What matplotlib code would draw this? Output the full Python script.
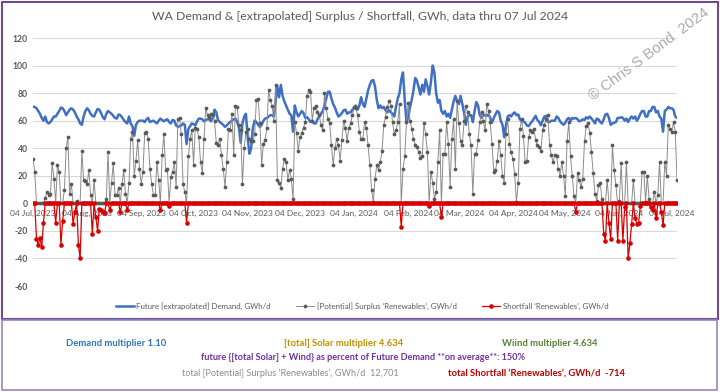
import matplotlib
matplotlib.use('Agg')
import matplotlib.pyplot as plt
import pandas as pd
from matplotlib.patches import Rectangle
from matplotlib.lines import Line2D

start_date = '2023-07-04'

# Future [extrapolated] Demand, GWh/d (daily, from 04 Jul 2023)
demand = [
    70, 70, 69, 67, 65, 62, 60, 63, 59, 58,
    59, 61, 63, 63, 65, 67, 69.5, 69, 67, 64,
    66, 68, 69, 68, 66, 63, 61, 58, 57, 63,
    67, 69, 67.5, 65, 63.5, 63, 66, 68.5, 68, 65.5,
    62.5, 61, 65, 67, 66, 65, 63.5, 62, 61.5, 64.5,
    64, 62.5, 60.5, 59, 58, 63, 58, 56, 49, 57,
    59, 60, 60, 60, 59, 61, 62, 59, 59.5, 60,
    59, 58, 60, 61.5, 60.5, 59.5, 60.5, 61, 59, 58,
    60.5, 60, 56.5, 55.5, 56, 56.5, 58, 57, 43, 54,
    56, 58, 57.5, 56.5, 59.5, 61.5, 61.5, 61, 59.5, 60.5,
    61, 61, 59.5, 62, 68, 66, 60.5, 59, 58, 57,
    55.5, 56.5, 58, 59, 60, 61, 61.5, 59, 55, 44,
    58, 63, 65, 48, 36, 40, 55, 60, 59, 57,
    55.5, 57, 60, 61.5, 62, 63, 64, 64, 63, 74,
    84.6, 77, 86, 78, 74, 71, 68, 65, 64, 52,
    71, 66, 63, 65, 67, 65.5, 62, 62.5, 61, 59,
    60, 58, 58, 61, 63, 65, 67, 71, 76, 81,
    81, 76, 72, 69.5, 66, 63, 64, 65.5, 67.5, 68,
    65, 66, 66, 68, 69, 71, 68, 71, 77, 72,
    70, 76, 82, 86, 89, 89.5, 84.6, 75, 69, 71,
    69, 70, 67.6, 66, 67.6, 66, 65, 63, 70, 76,
    80, 90, 95, 75, 59, 62, 70, 75, 82, 91,
    89, 84, 79, 86, 81, 90, 85, 79, 88, 100,
    95, 80, 73, 75, 67, 65, 67, 63, 65, 62,
    68, 74, 78, 74, 72, 78, 72, 66, 57, 63,
    64, 64, 59, 67, 73.5, 71, 64, 62, 64, 64,
    63.5, 64.5, 62, 58.5, 62, 64.5, 67, 66, 60, 57,
    48, 56.7, 63, 64, 63, 65, 66, 64, 64.5, 61,
    59.5, 59.5, 58.5, 56.5, 56, 58, 59.5, 61.5, 63.5, 60.5,
    59, 56.7, 60, 63, 63.5, 59, 59, 60, 60, 60,
    63, 62, 59.5, 58, 57, 58.5, 61, 62, 60, 62,
    61.5, 62, 61, 59.5, 60, 61, 60.5, 62.5, 61.5, 63,
    61.5, 60, 58, 61.5, 61, 59, 58, 61, 64.5, 65,
    62, 57, 58, 58.5, 59, 62, 62, 62.5, 62, 60,
    61.5, 59, 61.5, 63, 61.5, 63, 60, 62, 65, 67,
    67, 63, 63, 67, 67, 70, 70, 66, 67, 63,
    61.5, 52, 67, 68, 70, 69, 69, 68, 63, 62,
]

# [Potential] Surplus 'Renewables', GWh/d
surplus = [
    32, 23, 0, 0, 0, 0, 0, 4, 8, 6,
    7, 29, 18, 0, 28, 23, 0, 0, 10, 40,
    48, 7, 14, 0, 0, 2, 0, 0, 38, 17,
    16, 14, 24, 6, 0, 17, 0, 0, 0, 0,
    0, 0, 3, 37, 0, 15, 29, 6, 6, 11,
    0, 14, 24, 7, 0, 15, 47, 52, 20, 31,
    46, 25, 14, 23, 51, 52, 47, 25, 14, 6,
    6, 30, 17, 0, 35, 50, 24, 25, 0, 19,
    23, 30, 12, 61, 62, 50, 14, 8, 0, 34,
    47, 53, 28, 55, 54, 48, 30, 22, 47, 69,
    64, 63, 65, 64, 60, 44, 42, 47, 35, 25,
    12, 30, 54, 53, 65, 35, 71, 70, 57, 53,
    14, 40, 52, 54, 47, 45, 45, 50, 75, 76,
    58, 28, 43, 46, 55, 82, 75, 71, 60, 86,
    17, 15, 11, 25, 32, 30, 17, 24, 18, 3,
    59, 51, 38, 48, 51, 55, 59, 78, 82, 81,
    60, 69, 71, 66, 64, 57, 53, 80, 69, 61,
    58, 42, 28, 40, 47, 42, 31, 46, 60, 55,
    45, 55, 58, 64, 70, 69, 64, 52, 47, 47,
    59, 55, 42, 28, 10, 1, 18, 28, 24, 30,
    38, 57, 63, 70, 74, 71, 59, 50, 53, 59,
    72, 0, 25, 34, 59, 73, 60, 54, 47, 42,
    41, 37, 33, 34, 58, 50, 37, 0, 23, 15,
    3, 8, 30, 53, 0, 36, 36, 59, 43, 12,
    47, 61, 25, 74, 58, 45, 42, 60, 71, 66,
    50, 42, 7, 36, 36, 46, 59, 66, 60, 53,
    72, 67, 59, 43, 23, 24, 31, 45, 35, 20,
    15, 50, 61, 43, 37, 32, 21, 1, 15, 54,
    61, 49, 30, 31, 48, 53, 52, 54, 46, 42,
    41, 38, 53, 57, 61, 64, 42, 35, 30, 35,
    34, 25, 20, 30, 20, 5, 45, 59, 34, 20,
    5, 0, 22, 17, 12, 18, 45, 56, 58, 51,
    37, 22, 7, 2, 13, 15, 3, 0, 0, 17,
    0, 0, 42, 24, 13, 0, 2, 29, 0, 0,
    30, 0, 0, 0, 17, 0, 0, 0, 0, 23,
    23, 1, 20, 3, 0, 0, 8, 0, 6, 30,
    0, 0, 30, 20, 57, 54, 52, 59, 52, 17,
]

# Shortfall 'Renewables', GWh/d
shortfall = [
    0, 0, -26, -30, -25, -32, -14, 0, 0, 0,
    0, 0, 0, -14, 0, 0, -30, -13, 0, 0,
    0, 0, 0, -15, -6, 0, -30, -40, 0, 0,
    0, 0, 0, 0, -22, 0, -10, -20, -4, -5,
    -6, -7, 0, 0, -5, 0, 0, 0, 0, 0,
    -6, 0, 0, 0, -5, 0, 0, 0, 0, 0,
    0, 0, 0, 0, 0, 0, 0, 0, 0, 0,
    0, 0, 0, -5, 0, 0, 0, 0, -2, 0,
    0, 0, 0, 0, 0, 0, 0, 0, -14, 0,
    0, 0, 0, 0, 0, 0, 0, 0, 0, 0,
    0, 0, 0, 0, 0, 0, 0, 0, 0, 0,
    0, 0, 0, 0, 0, 0, 0, 0, 0, 0,
    0, 0, 0, 0, 0, 0, 0, 0, 0, 0,
    0, 0, 0, 0, 0, 0, 0, 0, 0, 0,
    0, 0, 0, 0, 0, 0, 0, 0, 0, 0,
    0, 0, 0, 0, 0, 0, 0, 0, 0, 0,
    0, 0, 0, 0, 0, 0, 0, 0, 0, 0,
    0, 0, 0, 0, 0, 0, 0, 0, 0, 0,
    0, 0, 0, 0, 0, 0, 0, 0, 0, 0,
    0, 0, 0, 0, 0, 0, 0, 0, 0, 0,
    0, 0, 0, 0, 0, 0, 0, 0, 0, 0,
    0, -17, 0, 0, 0, 0, 0, 0, 0, 0,
    0, 0, 0, 0, 0, 0, 0, -2, 0, 0,
    0, 0, 0, 0, -10, 0, 0, 0, 0, 0,
    0, 0, 0, 0, 0, 0, 0, 0, 0, 0,
    0, 0, 0, 0, 0, 0, 0, 0, 0, 0,
    0, 0, 0, 0, 0, 0, 0, 0, 0, 0,
    0, 0, 0, 0, 0, 0, 0, 0, 0, 0,
    0, 0, 0, 0, 0, 0, 0, 0, 0, 0,
    0, 0, 0, 0, 0, 0, 0, 0, 0, 0,
    0, 0, 0, 0, 0, 0, 0, 0, 0, 0,
    0, -6, 0, 0, 0, 0, 0, 0, 0, 0,
    0, 0, 0, 0, 0, 0, 0, -22, -27, 0,
    -14, -26, 0, 0, 0, -27, 0, 0, -27, -3,
    0, -40, -29, -15, 0, -11, -15, -14, -2, 0,
    0, 0, 0, 0, -3, -5, 0, -11, 0, 0,
    -6, -16, 0, 0, 0, 0, 0, 0, 0, 0,
]

tick_dates = ['2023-07-04', '2023-08-04', '2023-09-04', '2023-10-04', '2023-11-04',
              '2023-12-04', '2024-01-04', '2024-02-04', '2024-03-04', '2024-04-04',
              '2024-05-04', '2024-06-04', '2024-07-04']
tick_labels = ['04 Jul, 2023', '04 Aug, 2023', '04 Sep, 2023', '04 Oct, 2023', '04 Nov, 2023',
               '04 Dec, 2023', '04 Jan, 2024', '04 Feb, 2024', '04 Mar, 2024', '04 Apr, 2024',
               '04 May, 2024', '04 Jun, 2024', '04 Jul, 2024']
y_ticks = [-60, -40, -20, 0, 20, 40, 60, 80, 100, 120]

series_labels = ['Future [extrapolated] Demand, GWh/d',
                 '[Potential] Surplus \u2018Renewables\u2019, GWh/d',
                 'Shortfall \u2018Renewables\u2019, GWh/d']
title = 'WA Demand & [extrapolated] Surplus / Shortfall, GWh, data thru 07 Jul 2024'

n = min(len(demand), len(surplus), len(shortfall))
dates = pd.date_range(start_date, periods=n, freq='D')

FONT = ['Lato', 'DejaVu Sans']
plt.rcParams['font.family'] = FONT

W, H = 720, 392
fig = plt.figure(figsize=(W / 100, H / 100), dpi=100)
ax = fig.add_axes([33 / W, 1 - 286 / H, 644 / W, 248 / H])

c_dem = '#4070C4'
c_sur = '#8C8C8C'
c_sur_m = '#5A5A5A'
c_sf = '#D80000'

ax.plot(dates, demand[:n], color=c_dem, lw=1.8, zorder=3, solid_joinstyle='round')
ax.plot(dates, surplus[:n], color=c_sur, lw=0.7, marker='o', ms=1.7,
        mfc=c_sur_m, mec=c_sur_m, zorder=4)
ax.plot(dates, shortfall[:n], color=c_sf, lw=0.9, marker='o', ms=2.3,
        mfc=c_sf, mec=c_sf, zorder=5)

ax.set_xlim(dates[0], dates[-1])
ax.set_ylim(-60, 120)
ax.set_yticks(y_ticks)
ax.set_yticklabels([str(v) for v in y_ticks])
ax.set_xticks(pd.to_datetime(tick_dates))
ax.set_xticklabels(tick_labels)
ax.grid(axis='y', color='#D9D9D9', lw=0.8, zorder=0)
ax.set_axisbelow(True)
for s in ['top', 'right', 'left']:
    ax.spines[s].set_visible(False)
ax.spines['bottom'].set_position(('data', 0))
ax.spines['bottom'].set_color('#BFBFBF')
ax.tick_params(axis='x', length=0, pad=4.5, labelsize=6.0, labelcolor='#595959')
ax.tick_params(axis='y', length=0, pad=4, labelsize=6.2, labelcolor='#595959')
for lab in ax.get_yticklabels():
    lab.set_fontweight('bold')

fig.text(0.5, 1 - 17 / H, title, ha='center', va='center', fontsize=8.8, color='#595959')

fig.text(649 / W, 1 - 54 / H, '\u00a9 Chris S Bond  2024', rotation=36.6, ha='center', va='center',
         fontsize=10.8, color='#ABABAB', family=['Liberation Sans', 'DejaVu Sans'])

handles = [Line2D([], [], color=c_dem, lw=1.8),
           Line2D([], [], color=c_sur, lw=0.7, marker='o', ms=1.7, mfc=c_sur_m, mec=c_sur_m),
           Line2D([], [], color=c_sf, lw=0.9, marker='o', ms=2.3, mfc=c_sf, mec=c_sf)]
leg = fig.legend(handles, series_labels, loc='center', bbox_to_anchor=(362 / W, 1 - 306 / H),
                 ncol=3, frameon=False, fontsize=5.7, handlelength=2.3, columnspacing=3.2,
                 handletextpad=0.3)
for t in leg.get_texts():
    t.set_color('#595959')

# borders
fig.add_artist(Rectangle((1.5 / W, 1 - 319 / H), 716 / W, 317.5 / H, transform=fig.transFigure,
                         fill=False, ec='#6E4C94', lw=1.5))
fig.add_artist(Rectangle((2 / W, 1 - 390 / H), 715 / W, 70 / H, transform=fig.transFigure,
                         fill=False, ec='#9A86C0', lw=1.2))

fs = 6.8
fig.text(116 / W, 1 - 343 / H, 'Demand multiplier 1.10', ha='center', va='center',
         fontsize=fs, color='#2E75B6', fontweight='bold')
fig.text(344 / W, 1 - 343 / H, '[total] Solar multiplier 4.634', ha='center', va='center',
         fontsize=fs, color='#BF9000', fontweight='bold')
fig.text(550 / W, 1 - 343 / H, 'Wiind multiplier 4.634', ha='center', va='center',
         fontsize=fs, color='#548235', fontweight='bold')
fig.text(363 / W, 1 - 357 / H,
         'future {[total Solar] + Wind} as percent of Future Demand **on average**: 150%',
         ha='center', va='center', fontsize=fs - 0.2, color='#7030A0', fontweight='bold')
fig.text(290 / W, 1 - 373 / H,
         'total [Potential] Surplus \u2018Renewables\u2019, GWh/d  12,701',
         ha='center', va='center', fontsize=6.6, color='#8C8C8C')
fig.text(536 / W, 1 - 373 / H, 'total Shortfall \u2018Renewables\u2019, GWh/d  -714',
         ha='center', va='center', fontsize=fs, color='#C00000', fontweight='bold')

fig.savefig('out.png', dpi=100)
